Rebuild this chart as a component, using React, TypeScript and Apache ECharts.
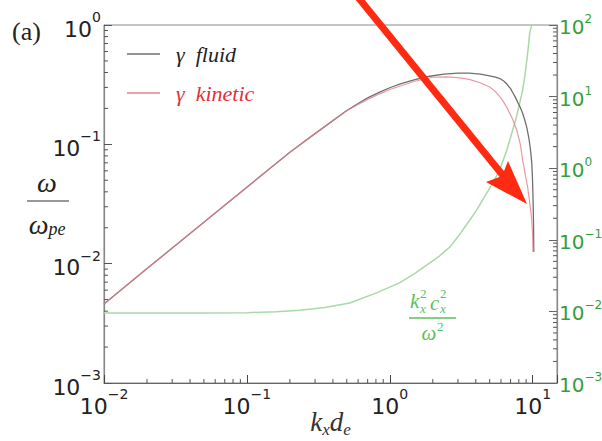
import React, { useEffect, useRef } from 'react';
import * as echarts from 'echarts';

// ---- data ----
const kFluid = [0.01, 0.02, 0.05, 0.1, 0.2, 0.3, 0.4, 0.5, 0.6, 0.7, 0.85, 1.0, 1.2, 1.5, 1.9, 2.4, 3.0, 3.6, 4.3, 5.0, 5.5, 5.9, 6.3, 6.6, 7.0, 7.25, 7.6, 7.9, 8.2, 8.5, 8.8, 9.1, 9.4, 9.6, 9.75, 9.85, 9.95, 10.02, 10.08, 10.13, 10.16, 10.18];
const gammaFluid = [0.0046, 0.0091, 0.0222, 0.0437, 0.086, 0.123, 0.158, 0.192, 0.22, 0.245, 0.274, 0.298, 0.322, 0.348, 0.372, 0.388, 0.395, 0.395, 0.387, 0.375, 0.366, 0.356, 0.338, 0.32, 0.293, 0.272, 0.245, 0.222, 0.203, 0.183, 0.16, 0.138, 0.113, 0.095, 0.08, 0.07, 0.055, 0.042, 0.032, 0.023, 0.017, 0.0125];

const kKinetic = [0.01, 0.02, 0.05, 0.1, 0.2, 0.3, 0.4, 0.5, 0.6, 0.7, 0.85, 1.0, 1.2, 1.5, 2.0, 2.5, 3.0, 3.6, 4.3, 5.0, 5.3, 5.6, 6.1, 6.58, 7.2, 7.73, 8.2, 8.51, 8.9, 9.22, 9.55, 9.85, 10.0, 10.05];
const gammaKinetic = [0.0046, 0.0091, 0.0222, 0.0437, 0.086, 0.123, 0.158, 0.191, 0.216, 0.238, 0.265, 0.288, 0.31, 0.338, 0.365, 0.368, 0.362, 0.35, 0.328, 0.302, 0.287, 0.269, 0.238, 0.205, 0.165, 0.132, 0.1, 0.0738, 0.055, 0.0439, 0.032, 0.0232, 0.017, 0.0125];

const kRatio = [0.01, 0.05, 0.1, 0.16, 0.235, 0.35, 0.525, 0.8, 1.17, 1.5, 1.8, 2.2, 2.63, 3.0, 3.5, 4.0, 4.47, 5.2, 5.87, 6.6, 7.25, 7.7, 8.1, 8.51, 8.8, 9.1, 9.35, 9.53, 9.85];
const ratioValues = [0.0095, 0.0095, 0.0096, 0.0099, 0.0104, 0.0113, 0.0131, 0.018, 0.025, 0.034, 0.044, 0.058, 0.079, 0.11, 0.17, 0.25, 0.36, 0.6, 0.94, 1.8, 3.42, 5.2, 8, 12.3, 19, 32, 52, 77, 100];

// axis ranges / ticks
const X_MIN = 0.01;
const X_MAX = 14.8;
const YL_MIN = 0.001;
const YL_MAX = 1;
const YR_MIN = 0.001;
const YR_MAX = 100;
const xDecades = [0.01, 0.1, 1, 10];
const yLeftDecades = [0.001, 0.01, 0.1];
const yRightDecades = [0.001, 0.01, 0.1, 1, 10];
const minorMultipliers = [2, 3, 4, 5, 6, 7, 8, 9];

const LABEL_FONT = 'DejaVu Sans';
const SERIF = 'Liberation Serif';
const GREEN_TXT = '#34a03c';
const GREEN_LBL = '#5abf5a';

function powLabel(v: number) {
  const l = Math.log10(v);
  const e = Math.round(l);
  if (Math.abs(l - e) > 1e-6) return '';
  return `{b|10}{s|${e < 0 ? '\u2212' : ''}${Math.abs(e)}}`;
}

function richFor(color: string, big: number, small: number, lh: number) {
  return {
    b: { fontSize: big, fontFamily: LABEL_FONT, color, lineHeight: lh, verticalAlign: 'bottom' },
    s: { fontSize: small, fontFamily: LABEL_FONT, color, lineHeight: 16, verticalAlign: 'top' },
  };
}

function minorList(decades: number[], limit: number) {
  const out: number[] = [];
  decades.forEach((d) => minorMultipliers.forEach((m) => { const v = m * d; if (v < limit) out.push(v); }));
  return out;
}

export default function App() {
  const ref = useRef<HTMLDivElement>(null);
  useEffect(() => {
    if (!ref.current) return;
    const chart = echarts.init(ref.current, null, { renderer: 'svg' });

    const xMinor = minorList(xDecades, X_MAX).map((v) => [v, YL_MIN]);
    const yLMinor = minorList(yLeftDecades, YL_MAX).map((v) => [X_MIN, v]);
    const yRMinor = minorList(yRightDecades, YR_MAX).map((v) => [X_MAX, v]);

    const tickSeries = (data: number[][], yAxisIndex: number, dx: number, dy: number) => ({
      type: 'custom',
      xAxisIndex: 0,
      yAxisIndex,
      silent: true,
      z: 5,
      clip: false,
      data,
      renderItem: (_p: any, api: any) => {
        const p = api.coord([api.value(0), api.value(1)]);
        return {
          type: 'line',
          shape: { x1: p[0], y1: p[1], x2: p[0] + dx, y2: p[1] + dy },
          style: { stroke: '#555', lineWidth: 1 },
        };
      },
    });

    chart.setOption({
      animation: false,
      backgroundColor: '#ffffff',
      grid: {
        left: 104, right: 45, top: 25, bottom: 58,
        containLabel: false, outerBoundsMode: 'none',
        show: true, borderColor: '#8a8a8a', borderWidth: 1,
      },
      legend: {
        show: true,
        orient: 'vertical',
        left: 122,
        top: 38,
        icon: 'rect',
        itemWidth: 33,
        itemHeight: 1.5,
        itemGap: 17,
        selectedMode: false,
        data: [
          { name: 'γ fluid', textStyle: { color: '#222' } },
          { name: 'γ kinetic', textStyle: { color: '#e0303c' } },
        ],
        formatter: (n: string) => '  ' + n.replace(' ', '\u2002'),
        textStyle: { fontFamily: SERIF, fontStyle: 'italic', fontSize: 22 },
      },
      xAxis: {
        type: 'log',
        logBase: 10,
        min: X_MIN,
        max: X_MAX,
        axisLine: { show: true, lineStyle: { color: '#666', width: 1.2 } },
        axisTick: { show: true, inside: true, length: 8, lineStyle: { color: '#444' } },
        axisLabel: { formatter: powLabel, rich: richFor('#222', 22, 14, 30), margin: 4 },
        splitLine: { show: false },
        name: '{i|k}{s|x}{i|d}{s|e}',
        nameLocation: 'middle',
        nameGap: 25,
        nameMoveOverlap: false,
        nameTextStyle: {
          rich: {
            i: { fontFamily: SERIF, fontStyle: 'italic', fontSize: 27, color: '#333', lineHeight: 30, verticalAlign: 'top' },
            s: { fontFamily: SERIF, fontStyle: 'italic', fontSize: 17, color: '#333', lineHeight: 16, verticalAlign: 'bottom' },
          },
        },
      },
      yAxis: [
        {
          type: 'log',
          logBase: 10,
          min: YL_MIN,
          max: YL_MAX,
          position: 'left',
          axisLine: { show: true, lineStyle: { color: '#888', width: 1.2 } },
          axisTick: { show: true, inside: true, length: 8, lineStyle: { color: '#555' } },
          axisLabel: { formatter: powLabel, rich: richFor('#222', 22, 14, 30), margin: 3 },
          splitLine: { show: false },
        },
        {
          type: 'log',
          logBase: 10,
          min: YR_MIN,
          max: YR_MAX,
          position: 'right',
          axisLine: { show: true, lineStyle: { color: '#888', width: 1.2 } },
          axisTick: { show: true, inside: true, length: 8, lineStyle: { color: '#666' } },
          axisLabel: { formatter: powLabel, rich: richFor(GREEN_TXT, 20, 12, 24), margin: 2 },
          splitLine: { show: false },
        },
      ],
      series: [
        {
          type: 'line',
          name: 'γ fluid',
          yAxisIndex: 0,
          data: kFluid.map((k, i) => [k, gammaFluid[i]]),
          symbol: 'none',
          showSymbol: false,
          lineStyle: { color: '#6f6f6f', width: 1.3 },
          itemStyle: { color: '#6f6f6f' },
          z: 3,
        },
        {
          type: 'line',
          name: 'γ kinetic',
          yAxisIndex: 0,
          data: kKinetic.map((k, i) => [k, gammaKinetic[i]]),
          symbol: 'none',
          showSymbol: false,
          lineStyle: { color: '#e3808c', width: 1.2, opacity: 0.8 },
          itemStyle: { color: '#e3808c' },
          z: 4,
        },
        {
          type: 'line',
          name: 'ratio',
          yAxisIndex: 1,
          data: kRatio.map((k, i) => [k, ratioValues[i]]),
          symbol: 'none',
          showSymbol: false,
          lineStyle: { color: '#a9d8a9', width: 1.5 },
          itemStyle: { color: '#a9d8a9' },
          z: 2,
        },
        tickSeries(xMinor, 0, 0, -4),
        tickSeries(yLMinor, 0, 4, 0),
        tickSeries(yRMinor, 1, -4, 0),
      ],
      graphic: [
        { type: 'text', x: 12, y: 31, style: { text: '(a)', fontFamily: SERIF, fontSize: 26, fill: '#222', align: 'left', verticalAlign: 'middle' } },
        // y-axis label fraction
        { type: 'text', x: 47, y: 182, style: { text: 'ω', fontFamily: SERIF, fontStyle: 'italic', fontSize: 28, fill: '#222', align: 'center', verticalAlign: 'middle' } },
        { type: 'line', shape: { x1: 27, y1: 201, x2: 69, y2: 201 }, style: { stroke: '#333', lineWidth: 1.2 } },
        {
          type: 'text', x: 47, y: 224,
          style: {
            text: '{w|ω}{p|pe}', align: 'center', verticalAlign: 'middle',
            rich: {
              w: { fontFamily: SERIF, fontStyle: 'italic', fontSize: 28, fill: '#222', lineHeight: 28, verticalAlign: 'top' },
              p: { fontFamily: SERIF, fontStyle: 'italic', fontSize: 18, fill: '#222', lineHeight: 16, verticalAlign: 'bottom' },
            },
          },
        },
        // green ratio label
        { type: 'text', x: 410, y: 301, style: { text: 'k', fontFamily: SERIF, fontStyle: 'italic', fontSize: 21, fill: GREEN_LBL, align: 'left', verticalAlign: 'middle' } },
        { type: 'text', x: 420, y: 293, style: { text: '2', fontFamily: SERIF, fontSize: 13, fill: GREEN_LBL, align: 'left', verticalAlign: 'middle' } },
        { type: 'text', x: 420, y: 308, style: { text: 'x', fontFamily: SERIF, fontStyle: 'italic', fontSize: 13, fill: GREEN_LBL, align: 'left', verticalAlign: 'middle' } },
        { type: 'text', x: 430, y: 303, style: { text: 'c', fontFamily: SERIF, fontStyle: 'italic', fontSize: 21, fill: GREEN_LBL, align: 'left', verticalAlign: 'middle' } },
        { type: 'text', x: 440, y: 293, style: { text: '2', fontFamily: SERIF, fontSize: 13, fill: GREEN_LBL, align: 'left', verticalAlign: 'middle' } },
        { type: 'text', x: 440, y: 308, style: { text: 'x', fontFamily: SERIF, fontStyle: 'italic', fontSize: 13, fill: GREEN_LBL, align: 'left', verticalAlign: 'middle' } },
        { type: 'line', shape: { x1: 409, y1: 318, x2: 456, y2: 318 }, style: { stroke: GREEN_LBL, lineWidth: 1.3 } },
        { type: 'text', x: 429, y: 333, style: { text: 'ω', fontFamily: SERIF, fontStyle: 'italic', fontSize: 21, fill: GREEN_LBL, align: 'center', verticalAlign: 'middle' } },
        { type: 'text', x: 437, y: 326, style: { text: '2', fontFamily: SERIF, fontSize: 13, fill: GREEN_LBL, align: 'left', verticalAlign: 'middle' } },
        // red annotation arrow
        { type: 'line', z: 100, shape: { x1: 357, y1: -4, x2: 505, y2: 178 }, style: { stroke: '#ff2a12', lineWidth: 7 } },
        { type: 'polygon', z: 100, shape: { points: [[527, 204], [486, 182], [502, 176], [508, 161]] }, style: { fill: '#ff2a12' } },
      ],
    });
    return () => chart.dispose();
  }, []);
  return <div ref={ref} style={{ position: 'fixed', left: 0, top: 0, width: 602, height: 441, background: '#fff' }} />;
}
